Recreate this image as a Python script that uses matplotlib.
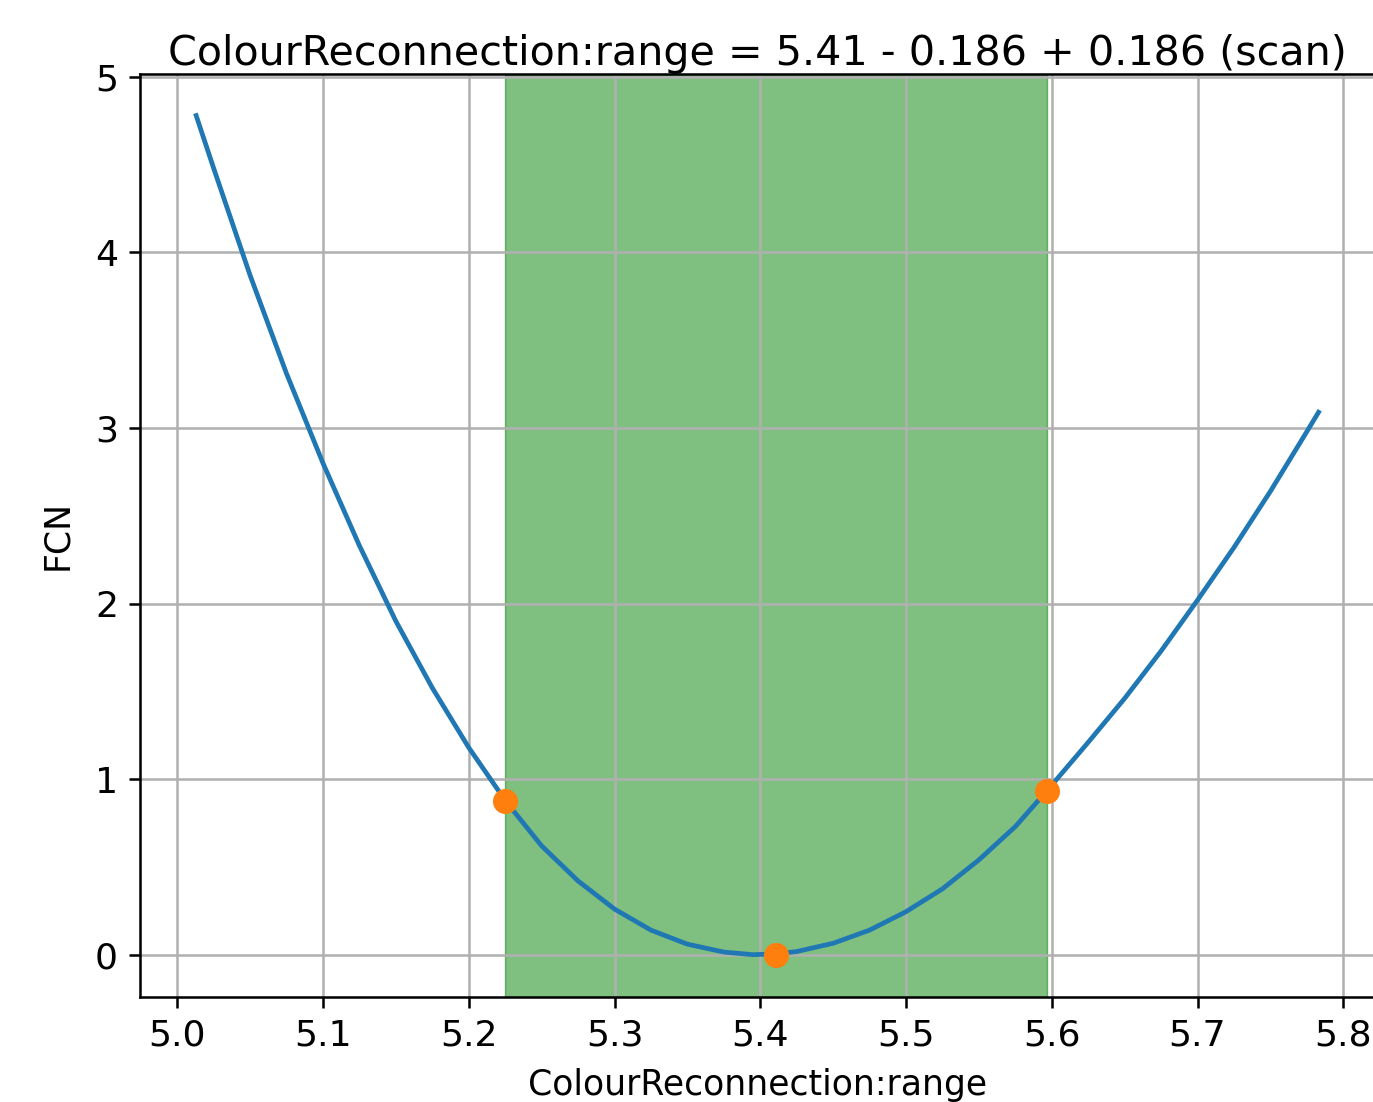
import matplotlib
matplotlib.use('Agg')
import matplotlib.pyplot as plt

# profile scan of the fit function vs. the parameter
par_name = "ColourReconnection:range"
scan_x = [5.013, 5.025, 5.050, 5.075, 5.100, 5.125, 5.150, 5.175, 5.200, 5.2255,
          5.250, 5.275, 5.300, 5.325, 5.350, 5.375, 5.395, 5.411, 5.425, 5.450,
          5.475, 5.500, 5.525, 5.550, 5.575, 5.5967, 5.625, 5.650, 5.675, 5.700,
          5.725, 5.750, 5.775, 5.783]
scan_fcn = [4.78, 4.48, 3.87, 3.31, 2.80, 2.33, 1.90, 1.52, 1.18, 0.873,
            0.62, 0.42, 0.26, 0.14, 0.06, 0.015, 0.0, 0.005, 0.018, 0.065,
            0.14, 0.245, 0.375, 0.54, 0.73, 0.934, 1.21, 1.46, 1.73, 2.02,
            2.32, 2.64, 2.98, 3.09]

# best fit value and the scan errors
best = 5.411
err_lo = 0.186
err_hi = 0.186
point_fcn = [0.873, 0.0, 0.934]

s = 2.27  # scale factor on line widths / font sizes
plt.rcParams['font.size'] = 11.5 * s
plt.rcParams['axes.titlesize'] = 13.1 * s
plt.rcParams['axes.labelsize'] = 11.0 * s
plt.rcParams['xtick.labelsize'] = 11.5 * s
plt.rcParams['ytick.labelsize'] = 11.5 * s
plt.rcParams['axes.linewidth'] = 0.8 * s
plt.rcParams['grid.linewidth'] = 0.8 * s
for a in ('xtick', 'ytick'):
    plt.rcParams[a + '.major.size'] = 3.5 * s
    plt.rcParams[a + '.major.width'] = 0.8 * s
    plt.rcParams[a + '.major.pad'] = 3.5 * s

fig = plt.figure(figsize=(13.73, 11.02), dpi=100)
ax = fig.add_axes([0.102, 0.0956, 0.8992, 0.8376])

lo = best - err_lo
hi = best + err_hi
ax.plot(scan_x, scan_fcn, lw=1.5 * s)
ax.axvspan(lo, hi, color='green', alpha=0.5)
ax.plot([lo, best, hi], point_fcn, 'o', ms=7.5 * s)
ax.grid(True)

ax.set_xlabel(par_name, labelpad=5.0 * s)
ax.set_ylabel("FCN", labelpad=6.5 * s)
ax.set_title("%s = %.3g - %.3g + %.3g (scan)" % (par_name, best, err_lo, err_hi))

fig.savefig("out.png", dpi=100)
plt.close()
